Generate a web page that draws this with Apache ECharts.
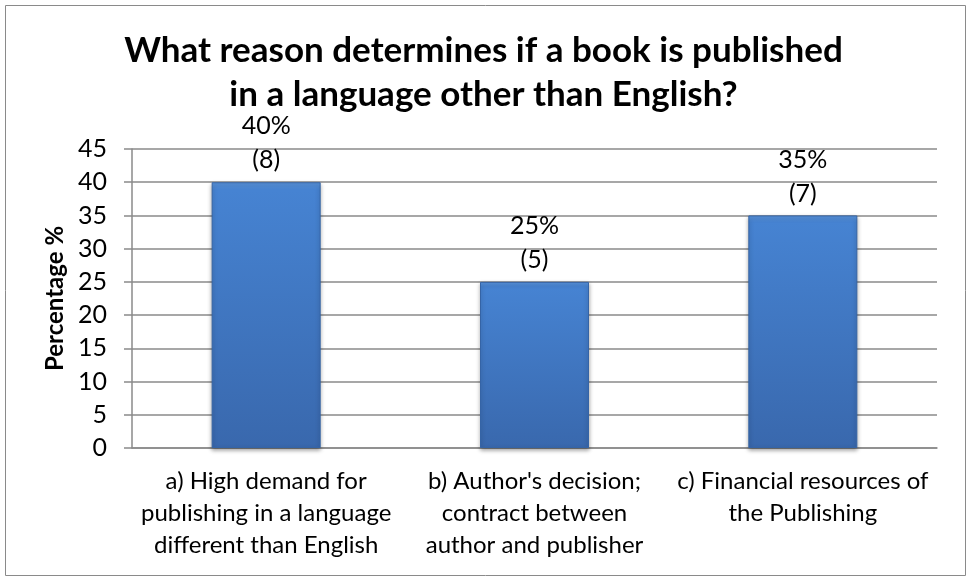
<!DOCTYPE html>
<html>
<head>
<meta charset="utf-8">
<script src="https://cdn.jsdelivr.net/npm/echarts@6/dist/echarts.min.js"></script>
<style>
  html, body { margin: 0; padding: 0; background: #fff; }
  #chart { width: 967px; height: 580px; }
</style>
</head>
<body>
<div id="chart"></div>
<script>
// Survey answers: reasons for publishing in a language other than English
const categories = [
  'a) High demand for\npublishing in a language\ndifferent than English',
  "b) Author's decision;\ncontract between\nauthor and publisher",
  'c) Financial resources of\nthe Publishing'
];
const percentages = [40, 25, 35];
const respondents = [8, 5, 7];
const yTicks = { min: 0, max: 45, interval: 5 };

const FONT = 'Lato, "Liberation Sans", sans-serif';

const chart = echarts.init(document.getElementById('chart'), null, { renderer: 'canvas' });

chart.setOption({
  backgroundColor: '#ffffff',
  animation: false,
  title: {
    text: 'What reason determines if a book is published\nin a language other than English?',
    left: 'center',
    top: 24,
    textStyle: {
      fontFamily: FONT,
      fontSize: 35,
      fontWeight: 'bold',
      color: '#000',
      lineHeight: 44
    }
  },
  graphic: [{
    type: 'rect',
    shape: { x: 5.5, y: 5.5, width: 960, height: 570 },
    style: { fill: 'none', stroke: '#8a8a8a', lineWidth: 1 },
    silent: true
  }],
  grid: { left: 132, right: 30, top: 149, bottom: 132 },
  xAxis: {
    type: 'category',
    data: categories,
    axisLine: { show: true, lineStyle: { color: '#8a8a8a', width: 1.5 } },
    axisTick: { show: false },
    axisLabel: {
      interval: 0,
      margin: 17,
      fontFamily: FONT,
      fontSize: 24,
      lineHeight: 32,
      color: '#000',
      align: 'center'
    }
  },
  yAxis: {
    type: 'value',
    min: yTicks.min,
    max: yTicks.max,
    interval: yTicks.interval,
    name: 'Percentage %',
    nameLocation: 'middle',
    nameGap: 62,
    nameRotate: 90,
    nameTextStyle: {
      fontFamily: FONT,
      fontSize: 24,
      fontWeight: 'bold',
      color: '#000'
    },
    axisLine: { show: true, lineStyle: { color: '#8a8a8a', width: 1.5 } },
    axisTick: { show: true, length: 8, lineStyle: { color: '#8a8a8a', width: 1.5 } },
    axisLabel: {
      margin: 25,
      fontFamily: FONT,
      fontSize: 25,
      color: '#000'
    },
    splitLine: { show: true, lineStyle: { color: '#8a8a8a', width: 1.5 } }
  },
  series: [{
    type: 'bar',
    data: percentages,
    barWidth: 109,
    itemStyle: {
      color: new echarts.graphic.LinearGradient(0, 0, 0, 1, [
        { offset: 0, color: '#5a95de' },
        { offset: 0.03, color: '#4683d2' },
        { offset: 1, color: '#3968ad' }
      ]),
      borderColor: '#3564a6',
      borderWidth: 1,
      shadowColor: 'rgba(0,0,0,0.35)',
      shadowBlur: 4,
      shadowOffsetY: 2
    },
    label: {
      show: true,
      position: 'top',
      distance: 5,
      fontFamily: FONT,
      fontSize: 25,
      lineHeight: 34,
      color: '#000',
      formatter: p => p.value + '%\n(' + respondents[p.dataIndex] + ')'
    }
  }]
});
</script>
</body>
</html>
